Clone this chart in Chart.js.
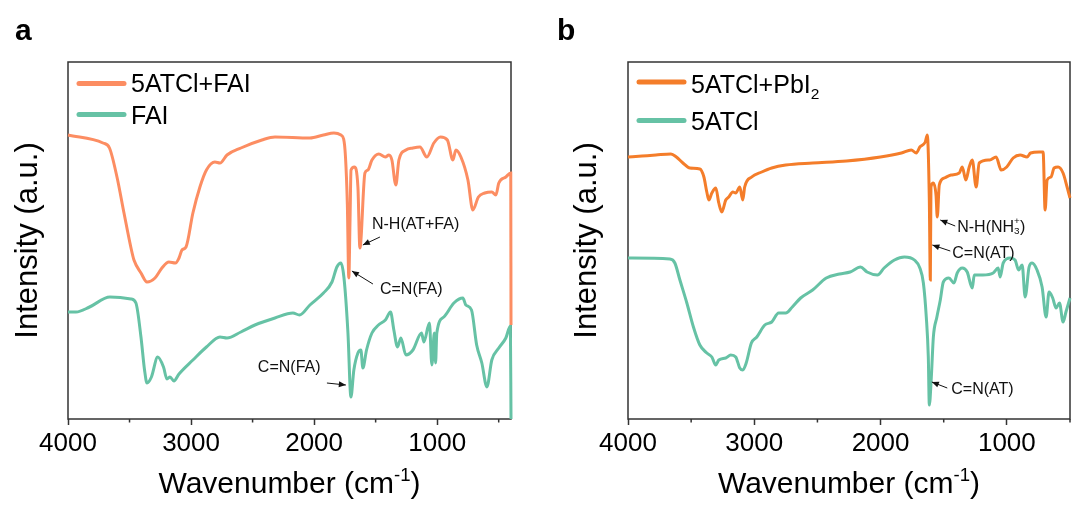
<!DOCTYPE html>
<html><head><meta charset="utf-8">
<script src="https://cdn.jsdelivr.net/npm/chart.js@4/dist/chart.umd.min.js"></script>
<style>
html,body{margin:0;padding:0;background:#fff;}
#wrap{position:relative;width:1073px;height:506px;overflow:hidden;}
.panel{position:absolute;top:0;height:506px;}
</style></head><body>
<div id="wrap">
<div class="panel" style="left:0;width:540px"><canvas id="ca" width="540" height="506"></canvas></div>
<div class="panel" style="left:540px;width:533px"><canvas id="cb" width="533" height="506"></canvas></div>
</div>
<script>
// ---------- data ----------
const xTickValues = [4000,3500,3000,2500,2000,1500,1000,500];
const xTickLabels = [4000,3000,2000,1000];
const xTitle = "Wavenumber (cm^{-1})";
const yTitle = "Intensity (a.u.)";
const panelLetters = ["a","b"];

// panel a: 5ATCl+FAI
const wnA1 = [4000,3716,3663,3602,3545,3488,3464,3407,3358,3293,3237,3180,3127,3098,3074,3041,2985,2928,2875,2806,2765,2708,2595,2424,2318,2034,1924,1839,1782,1760,1745,1730,1718,1708,1700,1673,1644,1628,1587,1563,1530,1474,1421,1392,1368,1336,1311,1254,1197,1140,1084,1027,973,917,872,848,807,750,710,665,613,556,523,499,442,402,400];
const intA1 = [284,276,271,242,206,171,159,146,137,141,151,157,156,161,169,172,206,232,249,257,256,264,271,279,282,281,284,286,284,280,262,215,141,200,249,252,232,171,246,249,259,265,262,264,259,234,259,269,271,272,262,276,282,279,259,269,262,239,209,222,226,227,224,236,242,246,94];
// panel a: FAI
const wnA2 = [4000,3935,3825,3659,3488,3448,3407,3378,3358,3322,3271,3224,3196,3171,3139,3098,2985,2875,2765,2708,2595,2481,2318,2172,2119,2034,1924,1855,1815,1782,1758,1725,1701,1677,1644,1620,1604,1574,1530,1477,1421,1379,1352,1322,1295,1254,1197,1127,1108,1063,1043,1023,1013,1003,946,864,791,767,721,679,637,596,556,499,442,405,400];
const intA2 = [107,107,112,122,120,116,82,49,36,42,62,52,40,42,38,45,59,72,82,81,87,94,101,106,104,114,126,137,152,156,142,86,22,49,66,69,51,69,86,94,99,107,89,72,81,64,69,86,77,96,54,86,56,86,102,116,121,114,109,74,56,32,59,71,81,93,0];
// panel b: 5ATCl+PbI2
const wnB1 = [4000,3889,3779,3660,3617,3565,3510,3431,3399,3376,3360,3336,3305,3281,3257,3226,3202,3170,3147,3115,3091,3076,3021,2941,2862,2751,2538,2270,2001,1835,1757,1717,1689,1646,1630,1614,1606,1601,1582,1561,1551,1535,1495,1442,1377,1353,1325,1298,1274,1243,1219,1136,1085,1045,1001,950,895,840,812,745,713,697,681,650,626,594,555,523,500];
const intB1 = [262,263,264,265,262,256,251,250,242,227,219,226,231,216,207,219,222,227,226,232,219,232,242,247,251,254,256,258,262,266,269,266,272,277,284,219,139,232,236,224,202,234,241,244,246,252,239,252,259,232,256,259,262,249,252,261,264,262,266,267,267,209,239,242,251,252,246,232,221];
// panel b: 5ATCl
const wnB2 = [4000,3668,3629,3589,3534,3482,3431,3376,3336,3305,3281,3226,3186,3147,3115,3091,3064,3023,2980,2917,2862,2807,2751,2699,2633,2538,2430,2325,2241,2159,2107,2025,1972,1890,1811,1732,1689,1661,1638,1622,1614,1598,1582,1554,1527,1503,1459,1419,1393,1353,1314,1274,1258,1190,1108,1069,1053,1029,974,935,907,879,855,824,800,761,721,689,666,637,610,583,555,532,500];
const intB2 = [161,160,156,139,116,92,74,66,62,54,59,61,64,62,51,49,56,76,82,94,97,106,106,112,121,129,141,145,147,152,147,144,151,159,162,159,151,136,102,62,14,42,82,102,119,137,141,136,146,151,147,131,144,144,146,151,142,156,161,159,149,154,122,152,156,149,132,102,127,121,111,116,97,107,121];

const seriesNamesA = ["5ATCl+FAI","FAI"];
const seriesNamesB = ["5ATCl+PbI_{2}","5ATCl"];

// annotations: [text, textWn, textInt, arrowTailWn, arrowTailInt, arrowHeadWn, arrowHeadInt]
const notesA = [
  ["N-H(AT+FA)",1530,194,1465,182,1604,174],
  ["C=N(FA)",1465,129,1522,135,1693,148],
  ["C=N(FA)",2457,51,1896,36,1742,34]
];
const notesB = [
  ["N-H(NH_{3}^{+})",1393,191,1409,193,1527,199],
  ["C=N(AT)",1432,165,1448,168,1590,174],
  ["C=N(AT)",1440,29,1472,31,1594,37]
];

// ---------- drawing ----------
const FONT = "'Liberation Sans', Arial, Helvetica, sans-serif";

function parseRich(str){
  const segs=[]; let i=0, buf='';
  while(i<str.length){
    const c=str[i];
    if((c==='_'||c==='^') && str[i+1]==='{'){
      if(buf){segs.push({t:buf,k:'n'});buf='';}
      const end=str.indexOf('}',i);
      segs.push({t:str.slice(i+2,end),k:c==='_'?'sub':'sup'});
      i=end+1;
    } else {buf+=c;i++;}
  }
  if(buf) segs.push({t:buf,k:'n'});
  return segs;
}
function layoutRich(ctx,str,size,weight){
  const segs=parseRich(str); const small=size*0.62;
  let w=0; const items=[];
  for(let j=0;j<segs.length;j++){
    const s=segs[j];
    const fs = s.k==='n'?size:small;
    ctx.font = `${weight||''} ${fs}px ${FONT}`;
    const sw=ctx.measureText(s.t).width;
    if(s.k==='sup' && j>0 && segs[j-1].k==='sub'){
      const prev=items[items.length-1];
      items.push({s,fs,sw,x:prev.x});
      w = Math.max(w, prev.x+sw);
    } else {
      items.push({s,fs,sw,x:w});
      w+=sw;
    }
  }
  return {items,w};
}
function drawRich(ctx,str,x,y,size,align,baseline){
  const L=layoutRich(ctx,str,size);
  let x0 = align==='center'? x-L.w/2 : (align==='right'? x-L.w : x);
  ctx.textAlign='left'; ctx.textBaseline=baseline||'alphabetic';
  for(const it of L.items){
    ctx.font=`${it.fs}px ${FONT}`;
    let dy=0;
    if(it.s.k==='sub') dy=size*0.22;
    if(it.s.k==='sup') dy=-size*0.40;
    ctx.fillText(it.s.t,x0+it.x,y+dy);
  }
}

function makeDeco(cfg){
  return {
    id:'deco'+cfg.id,
    beforeDatasetsDraw(chart){
      const ctx=chart.ctx, a=chart.chartArea;
      ctx.save();
      ctx.strokeStyle='#333'; ctx.lineWidth=1.5;
      ctx.strokeRect(a.left,a.top,a.right-a.left,a.bottom-a.top);
      const xs=chart.scales.x;
      ctx.beginPath();
      for(const v of xTickValues){
        if(xTickLabels.includes(v)) continue;
        const px=xs.getPixelForValue(v);
        ctx.moveTo(px,a.bottom); ctx.lineTo(px,a.bottom+3.5);
      }
      ctx.stroke();
      ctx.restore();
    },
    afterDraw(chart){
      const ctx=chart.ctx, a=chart.chartArea;
      const xs=chart.scales.x, ys=chart.scales.y;
      ctx.save();
      ctx.fillStyle='#000';
      ctx.font=`bold 30px ${FONT}`; ctx.textAlign='left'; ctx.textBaseline='alphabetic';
      ctx.fillText(cfg.letter,cfg.letterX,40);
      drawRich(ctx,xTitle,(a.left+a.right)/2,493,30,'center');
      ctx.save();
      ctx.translate(cfg.yTitleX,(a.top+a.bottom)/2);
      ctx.rotate(-Math.PI/2);
      ctx.font=`31px ${FONT}`; ctx.textAlign='center'; ctx.textBaseline='alphabetic';
      ctx.fillText(yTitle,0,0);
      ctx.restore();
      chart.data.datasets.forEach((ds,i)=>{
        const ly=cfg.legendY[i];
        ctx.strokeStyle=ds.borderColor; ctx.lineWidth=5; ctx.lineCap='round';
        ctx.beginPath(); ctx.moveTo(a.left+11,ly); ctx.lineTo(a.left+56,ly); ctx.stroke();
        ctx.fillStyle='#000';
        drawRich(ctx,cfg.names[i],a.left+63,cfg.legendBase[i],25,'left');
      });
      ctx.lineCap='butt';
      for(const n of cfg.notes){
        const tx=xs.getPixelForValue(n[1]), ty=ys.getPixelForValue(n[2]);
        ctx.fillStyle='#111';
        drawRich(ctx,n[0],tx,ty,16,'left','middle');
        const x1=xs.getPixelForValue(n[3]), y1=ys.getPixelForValue(n[4]);
        const x2=xs.getPixelForValue(n[5]), y2=ys.getPixelForValue(n[6]);
        ctx.strokeStyle='#111'; ctx.lineWidth=1;
        ctx.beginPath(); ctx.moveTo(x1,y1); ctx.lineTo(x2,y2); ctx.stroke();
        const ang=Math.atan2(y2-y1,x2-x1), hl=7, hw=3;
        ctx.beginPath();
        ctx.moveTo(x2,y2);
        ctx.lineTo(x2-hl*Math.cos(ang)+hw*Math.sin(ang), y2-hl*Math.sin(ang)-hw*Math.cos(ang));
        ctx.lineTo(x2-hl*Math.cos(ang)-hw*Math.sin(ang), y2-hl*Math.sin(ang)+hw*Math.cos(ang));
        ctx.closePath(); ctx.fill();
      }
      ctx.restore();
    }
  };
}

function toPts(wn,v){ return wn.map((w,i)=>({x:w,y:v[i]})); }

function makeChart(cfg){
  return new Chart(document.getElementById(cfg.canvas),{
    type:'line',
    data:{datasets: cfg.series.map(s=>({
      label:s.label, data:toPts(s.wn,s.v), borderColor:s.color, borderWidth:3,
      pointRadius:0, tension:0.3, cubicInterpolationMode:'monotone', fill:false, clip:3
    }))},
    options:{
      responsive:false, animation:false, devicePixelRatio:1,
      layout:{padding:{top:62,right:cfg.padRight,left:0,bottom:0}},
      plugins:{legend:{display:false},tooltip:{enabled:false}},
      scales:{
        x:{type:'linear',reverse:true,min:cfg.xMin,max:4000,
          afterBuildTicks:s=>{s.ticks=xTickValues.map(v=>({value:v}));},
          afterFit:s=>{s.height=87;},
          ticks:{autoSkip:false,maxRotation:0,minRotation:0,font:{size:26,family:FONT},color:'#000',padding:3,
            callback:v=> xTickLabels.includes(v)? String(v):''},
          grid:{drawOnChartArea:false,drawTicks:true,tickLength:6,tickWidth:1.5,
            tickColor:c=> (c.tick && xTickLabels.includes(c.tick.value))? '#333':'rgba(0,0,0,0)'},
          border:{display:false}},
        y:{min:0,max:357,afterFit:s=>{s.width=cfg.left;},
          ticks:{display:false},grid:{display:false,drawTicks:false},border:{display:false}}
      }
    },
    plugins:[makeDeco(cfg)]
  });
}

makeChart({id:'a',canvas:'ca',left:68,padRight:29,xMin:400,letter:panelLetters[0],letterX:15,yTitleX:37,
  names:seriesNamesA,legendY:[83.5,114.5],legendBase:[92,123.5],notes:notesA,
  series:[{label:seriesNamesA[0],wn:wnA1,v:intA1,color:'#FC8D62'},{label:seriesNamesA[1],wn:wnA2,v:intA2,color:'#66C2A5'}]});
makeChart({id:'b',canvas:'cb',left:88,padRight:2,xMin:500,letter:panelLetters[1],letterX:17,yTitleX:56,
  names:seriesNamesB,legendY:[82,120.5],legendBase:[93,130],notes:notesB,
  series:[{label:seriesNamesB[0],wn:wnB1,v:intB1,color:'#F47D2A'},{label:seriesNamesB[1],wn:wnB2,v:intB2,color:'#66C2A5'}]});
</script>
</body></html>
